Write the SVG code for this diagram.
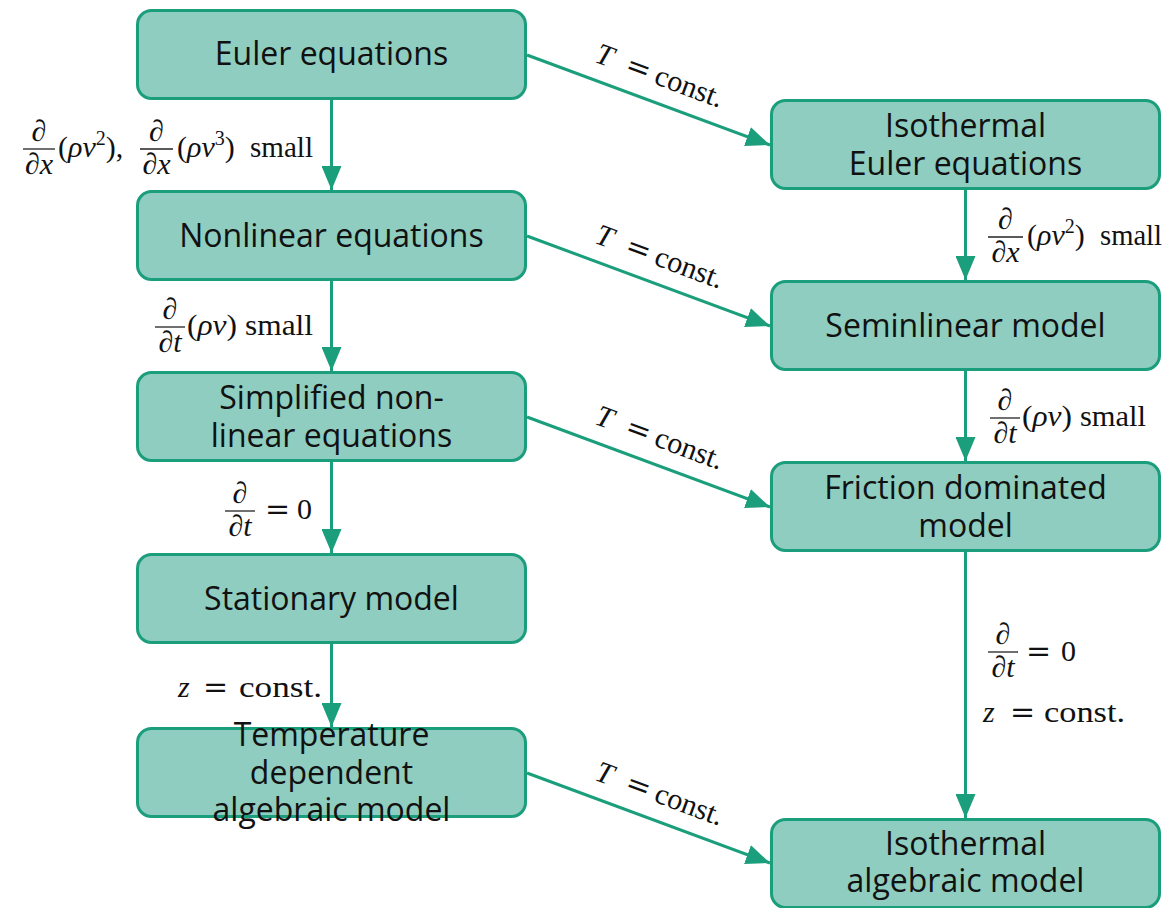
<svg xmlns="http://www.w3.org/2000/svg" width="1168" height="908" viewBox="0 0 1168 908">
<defs>
<style>
.box{fill:#8ecdbf;stroke:#1b9e7c;stroke-width:3}
.lbl{font-family:"Open Sans","Noto Sans",sans-serif;font-size:32px;fill:#111;text-anchor:middle}
.m{font-family:"Liberation Serif","DejaVu Serif",serif;font-size:30px;fill:#111}
.eq{font-family:"DejaVu Serif","Liberation Serif",serif;font-size:30px;fill:#111}
.i{font-style:italic}
.c{text-anchor:middle}
.bar{stroke:#222;stroke-width:1.3}
.edge{stroke:#1b9e7c;stroke-width:3;fill:none;marker-end:url(#ah)}
</style>
<marker id="ah" markerUnits="userSpaceOnUse" markerWidth="26" markerHeight="20" refX="24" refY="10" orient="auto">
<path d="M0,0 L24,10 L0,20 z" fill="#1b9e7c"/>
</marker>
</defs>
<rect width="1168" height="908" fill="#fff"/>
<g id="connectors">
<line class="edge" x1="331.5" y1="100" x2="331.5" y2="190"/>
<line class="edge" x1="331.5" y1="281" x2="331.5" y2="371"/>
<line class="edge" x1="331.5" y1="462" x2="331.5" y2="553"/>
<line class="edge" x1="331.5" y1="644" x2="331.5" y2="727"/>
<line class="edge" x1="965.5" y1="190" x2="965.5" y2="280"/>
<line class="edge" x1="965.5" y1="371" x2="965.5" y2="461"/>
<line class="edge" x1="965.5" y1="552" x2="965.5" y2="818"/>
<line class="edge" x1="527" y1="55" x2="770" y2="145"/>
<line class="edge" x1="527" y1="236" x2="770" y2="326"/>
<line class="edge" x1="527" y1="417" x2="770" y2="507"/>
<line class="edge" x1="527" y1="773" x2="770" y2="863"/>
</g>
<g id="edge-labels">
<g transform="translate(588,76.5) rotate(20.3)"><text class="m i" x="0" y="-16">T</text><text class="eq" x="32" y="-16">=</text><text class="m" x="63" y="-16" textLength="71" lengthAdjust="spacingAndGlyphs">const.</text></g>
<g transform="translate(588,257.5) rotate(20.3)"><text class="m i" x="0" y="-16">T</text><text class="eq" x="32" y="-16">=</text><text class="m" x="63" y="-16" textLength="71" lengthAdjust="spacingAndGlyphs">const.</text></g>
<g transform="translate(588,438.5) rotate(20.3)"><text class="m i" x="0" y="-16">T</text><text class="eq" x="32" y="-16">=</text><text class="m" x="63" y="-16" textLength="71" lengthAdjust="spacingAndGlyphs">const.</text></g>
<g transform="translate(588,794.5) rotate(20.3)"><text class="m i" x="0" y="-16">T</text><text class="eq" x="32" y="-16">=</text><text class="m" x="63" y="-16" textLength="71" lengthAdjust="spacingAndGlyphs">const.</text></g>
<g id="lab1">
<text class="m i c" x="39" y="141">∂</text><line class="bar" x1="23" y1="149" x2="55" y2="149"/><text class="m i c" x="39" y="174">∂x</text>
<text class="m" x="58" y="157">(<tspan class="i">ρv</tspan><tspan font-size="20" dy="-12">2</tspan><tspan dy="12">),</tspan></text>
<text class="m i c" x="156.5" y="141">∂</text><line class="bar" x1="140" y1="149" x2="173" y2="149"/><text class="m i c" x="156.5" y="174">∂x</text>
<text class="m" x="177" y="157">(<tspan class="i">ρv</tspan><tspan font-size="20" dy="-12">3</tspan><tspan dy="12">)</tspan></text>
<text class="m" x="250" y="157" textLength="63" lengthAdjust="spacingAndGlyphs">small</text>
</g>
<g id="lab2">
<text class="m i c" x="1005.5" y="229">∂</text><line class="bar" x1="988" y1="237" x2="1023" y2="237"/><text class="m i c" x="1005.5" y="262">∂x</text>
<text class="m" x="1027" y="245">(<tspan class="i">ρv</tspan><tspan font-size="20" dy="-12">2</tspan><tspan dy="12">)</tspan></text>
<text class="m" x="1100" y="245" textLength="62" lengthAdjust="spacingAndGlyphs">small</text>
</g>
<g id="lab3">
<text class="m i c" x="170" y="319">∂</text><line class="bar" x1="155" y1="327" x2="185" y2="327"/><text class="m i c" x="170" y="352">∂t</text>
<text class="m" x="187" y="335" textLength="50" lengthAdjust="spacingAndGlyphs">(<tspan class="i">ρv</tspan>)</text>
<text class="m" x="245" y="335" textLength="68" lengthAdjust="spacingAndGlyphs">small</text>
</g>
<g id="lab4">
<text class="m i c" x="1005" y="410">∂</text><line class="bar" x1="990" y1="418" x2="1020" y2="418"/><text class="m i c" x="1005" y="443">∂t</text>
<text class="m" x="1022" y="426" textLength="50" lengthAdjust="spacingAndGlyphs">(<tspan class="i">ρv</tspan>)</text>
<text class="m" x="1080" y="426" textLength="66" lengthAdjust="spacingAndGlyphs">small</text>
</g>
<g id="lab5">
<text class="m i c" x="240" y="503">∂</text><line class="bar" x1="225" y1="511" x2="255" y2="511"/><text class="m i c" x="240" y="536">∂t</text>
<text class="eq" x="265" y="519">=</text><text class="m" x="297" y="519">0</text>
</g>
<g id="lab6">
<text class="m i c" x="1003" y="644">∂</text><line class="bar" x1="988" y1="652" x2="1018" y2="652"/><text class="m i c" x="1003" y="677">∂t</text>
<text class="eq" x="1026" y="661">=</text><text class="m" x="1061" y="661">0</text>
<text class="m i" x="983" y="722" font-size="32">z</text><text class="eq" x="1010" y="722">=</text><text class="m" x="1044" y="722" font-size="32" textLength="81" lengthAdjust="spacingAndGlyphs">const.</text>
</g>
<g id="lab7">
<text class="m i" x="178" y="697" font-size="32">z</text><text class="eq" x="203" y="697">=</text><text class="m" x="239" y="697" font-size="32" textLength="83" lengthAdjust="spacingAndGlyphs">const.</text>
</g>
</g>
<g id="n-euler"><rect class="box" x="137.5" y="10.5" width="388" height="88" rx="14"/><text class="lbl" x="331.5" y="65">Euler equations</text></g>
<g id="n-nonlinear"><rect class="box" x="137.5" y="191.5" width="388" height="88" rx="14"/><text class="lbl" x="331.5" y="247">Nonlinear equations</text></g>
<g id="n-simplified"><rect class="box" x="137.5" y="372.5" width="388" height="88" rx="14"/><text class="lbl" x="331.5" y="409">Simplified non-</text><text class="lbl" x="331.5" y="447">linear equations</text></g>
<g id="n-stationary"><rect class="box" x="137.5" y="554.5" width="388" height="88" rx="14"/><text class="lbl" x="331.5" y="610">Stationary model</text></g>
<g id="n-temperature"><rect class="box" x="137.5" y="728.5" width="388" height="88" rx="14"/><text class="lbl" x="331.5" y="746">Temperature</text><text class="lbl" x="331.5" y="784">dependent</text><text class="lbl" x="331.5" y="821">algebraic model</text></g>
<g id="n-isoeuler"><rect class="box" x="771.5" y="100.5" width="388" height="88" rx="14"/><text class="lbl" x="965.5" y="137">Isothermal</text><text class="lbl" x="965.5" y="175">Euler equations</text></g>
<g id="n-seminlinear"><rect class="box" x="771.5" y="281.5" width="388" height="88" rx="14"/><text class="lbl" x="965.5" y="337">Seminlinear model</text></g>
<g id="n-friction"><rect class="box" x="771.5" y="462.5" width="388" height="88" rx="14"/><text class="lbl" x="965.5" y="499">Friction dominated</text><text class="lbl" x="965.5" y="537">model</text></g>
<g id="n-isoalg"><rect class="box" x="771.5" y="819.5" width="388" height="88" rx="14"/><text class="lbl" x="965.5" y="855">Isothermal</text><text class="lbl" x="965.5" y="892">algebraic model</text></g>
</svg>
